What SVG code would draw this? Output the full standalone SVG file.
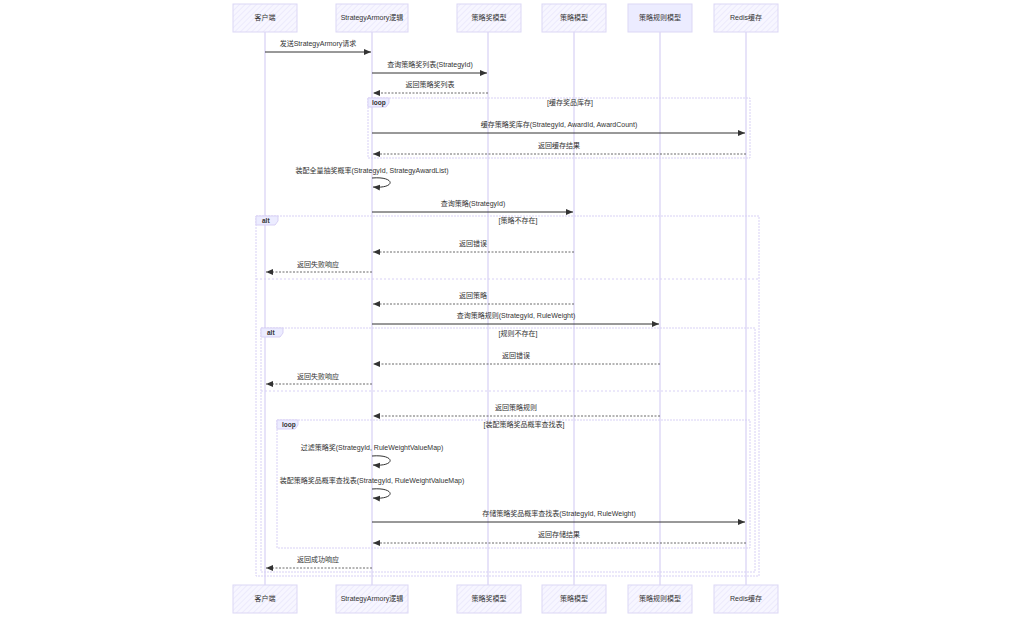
<svg xmlns="http://www.w3.org/2000/svg" width="1011" height="618" viewBox="0 0 1011 618">
<defs>
<pattern id="hatch" patternUnits="userSpaceOnUse" width="4" height="4" patternTransform="rotate(45)">
<rect width="4" height="4" fill="#f7f6ff"/>
<line x1="0" y1="0" x2="0" y2="4" stroke="#e6e3fa" stroke-width="1.2"/>
</pattern>
<marker id="arr" markerWidth="8" markerHeight="8" refX="7" refY="4" orient="auto" markerUnits="userSpaceOnUse">
<path d="M0,1 L7,4 L0,7 Z" fill="#333"/>
</marker>
</defs>
<style>
text{font-family:"Liberation Sans","Noto Sans CJK SC",sans-serif;fill:#333;font-size:7px}
.actor rect{fill:url(#hatch);stroke:#dcd7f5;stroke-width:1}
.actor text{text-anchor:middle;font-size:7px}
.life{stroke:#cfc7f2;stroke-width:1}
.msg{stroke:#333;stroke-width:1;fill:none;marker-end:url(#arr)}
.dash{stroke-dasharray:2,1.5;stroke-width:0.8;stroke:#444}
.lbl{text-anchor:middle}
.frame{fill:none;stroke:#d8d1f5;stroke-width:1;stroke-dasharray:2,1}
.tab{fill:#ececff;stroke:#d8d1f5;stroke-width:1}
.tabt{font-weight:bold;font-size:6.5px}
.div{stroke:#d8d1f5;stroke-width:1;stroke-dasharray:2,2}
</style>
<rect width="1011" height="618" fill="#ffffff"/>
<g id="lifelines">
<line class="life" x1="265" y1="32" x2="265" y2="585"/>
<line class="life" x1="372" y1="32" x2="372" y2="585"/>
<line class="life" x1="488" y1="32" x2="488" y2="585"/>
<line class="life" x1="574" y1="32" x2="574" y2="585"/>
<line class="life" x1="660" y1="32" x2="660" y2="585"/>
<line class="life" x1="746" y1="32" x2="746" y2="585"/>
</g>
<g id="frames">
<rect class="frame" x="368" y="98" width="382" height="60"/>
<path class="tab" d="M368,98 H389 V103 L386,107 H368 Z"/>
<text class="tabt" x="372" y="105">loop</text>
<text class="lbl" x="570" y="105">[缓存奖品库存]</text>

<rect class="frame" x="256" y="216" width="503" height="360"/>
<path class="tab" d="M256,216 H278 V221 L275,225 H256 Z"/>
<text class="tabt" x="262" y="223">alt</text>
<text class="lbl" x="518" y="223">[策略不存在]</text>
<line class="div" x1="256" y1="279" x2="759" y2="279"/>

<rect class="frame" x="261" y="328" width="494" height="244"/>
<path class="tab" d="M261,328 H283 V333 L280,337 H261 Z"/>
<text class="tabt" x="267" y="335">alt</text>
<text class="lbl" x="518" y="336">[规则不存在]</text>
<line class="div" x1="261" y1="391" x2="755" y2="391"/>

<rect class="frame" x="277" y="420" width="473" height="128"/>
<path class="tab" d="M277,420 H298 V425 L295,429 H277 Z"/>
<text class="tabt" x="282" y="427">loop</text>
<text class="lbl" x="524" y="427">[装配策略奖品概率查找表]</text>
</g>
<g id="connectors">
<line class="msg" x1="265" y1="52" x2="371" y2="52"/>
<text class="lbl" x="318" y="46">发送StrategyArmory请求</text>
<line class="msg" x1="372" y1="73" x2="487" y2="73"/>
<text class="lbl" x="430" y="67">查询策略奖列表(StrategyId)</text>
<line class="msg dash" x1="488" y1="93" x2="373" y2="93"/>
<text class="lbl" x="430" y="87">返回策略奖列表</text>
<line class="msg" x1="372" y1="133" x2="745" y2="133"/>
<text class="lbl" x="559" y="127">缓存策略奖库存(StrategyId, AwardId, AwardCount)</text>
<line class="msg dash" x1="746" y1="154" x2="373" y2="154"/>
<text class="lbl" x="559" y="148">返回缓存结果</text>
<path class="msg" d="M372,178 C396,176 396,189 373,187"/>
<text class="lbl" x="372" y="173">装配全量抽奖概率(StrategyId, StrategyAwardList)</text>
<line class="msg" x1="372" y1="212" x2="573" y2="212"/>
<text class="lbl" x="473" y="206">查询策略(StrategyId)</text>
<line class="msg dash" x1="574" y1="252" x2="373" y2="252"/>
<text class="lbl" x="473" y="246">返回错误</text>
<line class="msg dash" x1="372" y1="272" x2="266" y2="272"/>
<text class="lbl" x="318" y="267">返回失败响应</text>
<line class="msg dash" x1="574" y1="304" x2="373" y2="304"/>
<text class="lbl" x="473" y="298">返回策略</text>
<line class="msg" x1="372" y1="324" x2="659" y2="324"/>
<text class="lbl" x="516" y="318">查询策略规则(StrategyId, RuleWeight)</text>
<line class="msg dash" x1="660" y1="364" x2="373" y2="364"/>
<text class="lbl" x="516" y="358">返回错误</text>
<line class="msg dash" x1="372" y1="384" x2="266" y2="384"/>
<text class="lbl" x="318" y="379">返回失败响应</text>
<line class="msg dash" x1="660" y1="416" x2="373" y2="416"/>
<text class="lbl" x="516" y="410">返回策略规则</text>
<path class="msg" d="M372,456 C396,454 396,467 373,465"/>
<text class="lbl" x="372" y="450">过滤策略奖(StrategyId, RuleWeightValueMap)</text>
<path class="msg" d="M372,489 C396,487 396,500 373,498"/>
<text class="lbl" x="372" y="483">装配策略奖品概率查找表(StrategyId, RuleWeightValueMap)</text>
<line class="msg" x1="372" y1="522" x2="745" y2="522"/>
<text class="lbl" x="559" y="516">存储策略奖品概率查找表(StrategyId, RuleWeight)</text>
<line class="msg dash" x1="746" y1="543" x2="373" y2="543"/>
<text class="lbl" x="559" y="537">返回存储结果</text>
<line class="msg dash" x1="372" y1="568" x2="266" y2="568"/>
<text class="lbl" x="318" y="562">返回成功响应</text>
</g>
<g id="actor-client" class="actor">
<rect x="233" y="4" width="64" height="28"/><text x="265" y="20">客户端</text>
<rect x="233" y="585" width="64" height="28"/><text x="265" y="601">客户端</text>
</g>
<g id="actor-armory" class="actor">
<rect x="336" y="4" width="72" height="28"/><text x="372" y="20">StrategyArmory逻辑</text>
<rect x="336" y="585" width="72" height="28"/><text x="372" y="601">StrategyArmory逻辑</text>
</g>
<g id="actor-award" class="actor">
<rect x="457" y="4" width="64" height="28"/><text x="489" y="20">策略奖模型</text>
<rect x="457" y="585" width="64" height="28"/><text x="489" y="601">策略奖模型</text>
</g>
<g id="actor-strategy" class="actor">
<rect x="542" y="4" width="64" height="28"/><text x="574" y="20">策略模型</text>
<rect x="542" y="585" width="64" height="28"/><text x="574" y="601">策略模型</text>
</g>
<g id="actor-rule" class="actor">
<rect x="628" y="4" width="64" height="28" style="fill:#ececff"/><text x="660" y="20">策略规则模型</text>
<rect x="628" y="585" width="64" height="28"/><text x="660" y="601">策略规则模型</text>
</g>
<g id="actor-redis" class="actor">
<rect x="714" y="4" width="64" height="28"/><text x="746" y="20">Redis缓存</text>
<rect x="714" y="585" width="64" height="28"/><text x="746" y="601">Redis缓存</text>
</g>
</svg>
